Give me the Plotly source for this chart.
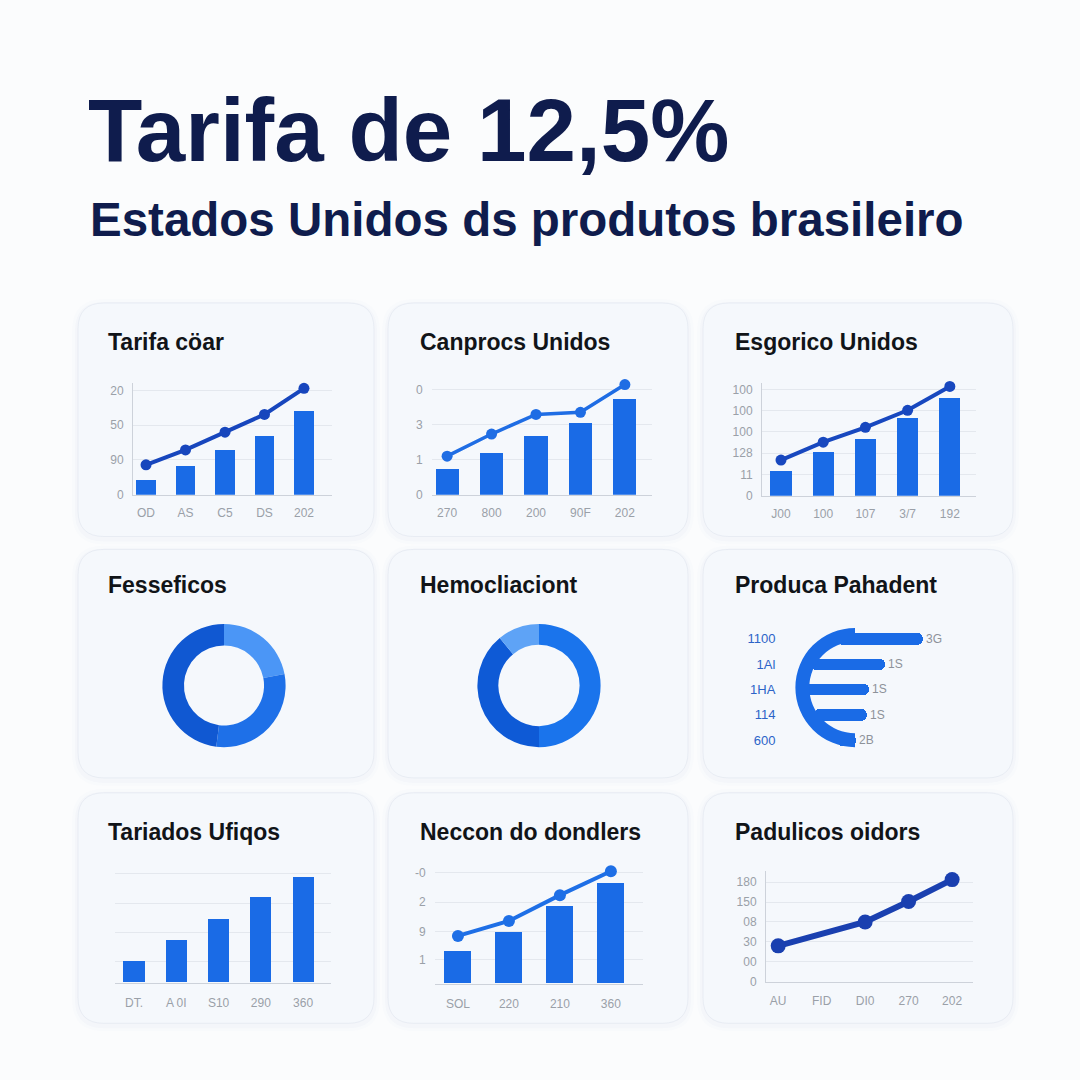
import numpy as np
import plotly.graph_objects as go

W = H = 1080

# ---------------- DATA ----------------
main_title = "Tarifa de 12,5%"
sub_title = "Estados Unidos ds produtos brasileiro"

panel_titles = ["Tarifa cöar", "Canprocs Unidos", "Esgorico Unidos",
                "Fesseficos", "Hemocliaciont", "Produca Pahadent",
                "Tariados Ufiqos", "Neccon do dondlers", "Padulicos oidors"]

# Panel 1
p1_cats = ["OD", "AS", "C5", "DS", "202"]
p1_bars = [4.3, 8.3, 13.1, 17.1, 24.3]
p1_line = [8.6, 12.9, 18.0, 23.1, 30.6]
p1_ytickvals = [0, 10, 20, 30]
p1_yticktext = ["0", "90", "50", "20"]

# Panel 2
p2_cats = ["270", "800", "200", "90F", "202"]
p2_bars = [7.4, 11.9, 17.0, 20.7, 27.5]
p2_line = [11.0, 17.3, 22.9, 23.5, 31.4]
p2_ytickvals = [0, 10, 20, 30]
p2_yticktext = ["0", "1", "3", "0"]

# Panel 3
p3_cats = ["J00", "100", "107", "3/7", "192"]
p3_bars = [1.17, 2.06, 2.71, 3.69, 4.63]
p3_line = [1.68, 2.52, 3.22, 4.02, 5.14]
p3_ytickvals = [0, 1, 2, 3, 4, 5]
p3_yticktext = ["0", "11", "128", "100", "100", "100"]

# Panel 4 (donut)
p4_values = [22, 30, 48]
# Panel 5 (donut)
p5_values = [50, 39, 11]

# Panel 6 (arc + horizontal bars)
p6_labels = ["1100", "1Al", "1HA", "114", "600"]
p6_values = [138, 100, 84, 82, 71]
p6_text = ["3G", "1S", "1S", "1S", "2B"]
p6_arc = [50, 50]

# Panel 7
p7_cats = ["DT.", "A 0I", "S10", "290", "360"]
p7_bars = [21, 43, 64, 86, 106]
p7_ytickvals = [21, 50, 80, 110]

# Panel 8
p8_cats = ["SOL", "220", "210", "360"]
p8_bars = [32, 52, 78, 101]
p8_line = [48, 63, 89, 113]
p8_ytickvals = [24, 52, 82, 112]
p8_yticktext = ["1", "9", "2", "-0"]

# Panel 9
p9_cats = ["AU", "FID", "DI0", "270", "202"]
p9_x = [0, 2, 3, 4]
p9_line = [54, 90, 121, 154]
p9_ytickvals = [0, 30, 60, 90, 120, 150]
p9_yticktext = ["0", "00", "30", "08", "150", "180"]

# ---------------- STYLE ----------------
FONT = "Liberation Sans"
BAR = "#1a6be6"
GRID = "#e4e8ee"
AXL = "#cdd2da"
TICK = "#9aa0a8"
NAVY = "#0f1c4d"


def xd(a, b):
    return [a / W, b / W]


def yd(top, bottom):
    return [1 - bottom / H, 1 - top / H]


fig = go.Figure()
layout = {}


def add_axes(i, xdom, ydom, xrange, yrange, xticks, yticks=None, ytext=None,
             yline=False, show_ylabels=True, ylabcolor=TICK, yfont=12, xticklen=7):
    xa = "xaxis" if i == 1 else f"xaxis{i}"
    ya = "yaxis" if i == 1 else f"yaxis{i}"
    layout[xa] = dict(domain=xd(*xdom), range=xrange, anchor=f"y{i if i>1 else ''}",
                      showgrid=False, zeroline=False, showline=xticks is not None,
                      linecolor=AXL, linewidth=1,
                      tickmode="array",
                      tickvals=list(range(len(xticks))) if xticks else [],
                      ticktext=xticks if xticks else [],
                      ticks="outside", ticklen=xticklen, tickcolor="rgba(0,0,0,0)",
                      tickfont=dict(family=FONT, size=12, color=TICK),
                      fixedrange=True)
    layout[ya] = dict(domain=yd(*ydom), range=yrange, anchor=f"x{i if i>1 else ''}",
                      showgrid=yticks is not None, gridcolor=GRID, gridwidth=1,
                      zeroline=False, showline=yline, linecolor=AXL, linewidth=1,
                      tickmode="array", tickvals=yticks if yticks else [],
                      ticktext=ytext if ytext else [],
                      showticklabels=show_ylabels,
                      ticks="outside", ticklen=6, tickcolor="rgba(0,0,0,0)",
                      tickfont=dict(family=FONT, size=yfont, color=ylabcolor),
                      fixedrange=True)


def ax(i):
    return ("x" if i == 1 else f"x{i}"), ("y" if i == 1 else f"y{i}")


def add_bars(i, vals, width, color=BAR):
    xa, ya = ax(i)
    fig.add_trace(go.Bar(x=list(range(len(vals))), y=vals, width=width,
                         marker=dict(color=color, line=dict(width=0)),
                         xaxis=xa, yaxis=ya, showlegend=False, hoverinfo="skip"))


def add_line(i, xs, vals, color, lw, ms):
    xa, ya = ax(i)
    fig.add_trace(go.Scatter(x=xs, y=vals, mode="lines+markers",
                             line=dict(color=color, width=lw),
                             marker=dict(color=color, size=ms),
                             xaxis=xa, yaxis=ya, showlegend=False,
                             hoverinfo="skip", cliponaxis=False))


# Panel 1
add_axes(1, (133, 332), (385, 498), [-0.33, 4.71], [0, 113 / 3.5], p1_cats,
         p1_ytickvals, p1_yticktext, yline=True)
add_bars(1, p1_bars, 0.5)
add_line(1, list(range(5)), p1_line, "#1746bd", 4, 11)

# Panel 2
add_axes(2, (432, 652), (383, 498), [-0.34, 4.61], [0, 115 / 3.533], p2_cats,
         p2_ytickvals, p2_yticktext, yline=False)
add_bars(2, p2_bars, 0.52)
add_line(2, list(range(5)), p2_line, "#1f6de4", 3.5, 11)

# Panel 3
add_axes(3, (762, 976), (385, 499), [-0.45, 4.62], [0, 114 / 21.4], p3_cats,
         p3_ytickvals, p3_yticktext, yline=True)
add_bars(3, p3_bars, 0.5)
add_line(3, list(range(5)), p3_line, "#1848bf", 4, 11)

# Panel 7
add_axes(4, (115, 331), (870, 989), [-0.45, 4.66], [0, 119], p7_cats,
         p7_ytickvals, None, yline=False, show_ylabels=False, xticklen=9)
add_bars(4, p7_bars, 0.5)

# Panel 8
add_axes(5, (435, 643), (870, 990), [-0.45, 3.63], [0, 120], p8_cats,
         p8_ytickvals, p8_yticktext, yline=False, xticklen=9)
add_bars(5, p8_bars, 0.53)
add_line(5, list(range(4)), p8_line, "#1e6fe6", 4, 12)

# Panel 9
add_axes(6, (766, 973), (877, 988), [-0.28, 4.48], [0, 166.5], p9_cats,
         p9_ytickvals, p9_yticktext, yline=True, xticklen=8)
add_line(6, p9_x, p9_line, "#1a40b0", 6, 15)

# Panel 6: horizontal bars + arc
p6_x0 = 785
p6_rows_top, p6_rows_bot = 630, 758
add_axes(7, (p6_x0, 960), (p6_rows_top, p6_rows_bot), [0, 175], [4.51, -0.51], None,
         list(range(5)), p6_labels, yline=False, ylabcolor="#2c64c8", yfont=13)
layout["yaxis7"]["showgrid"] = False
layout["xaxis7"]["showline"] = False
arc_cx, arc_cy, r_out, r_in = 855, 692, 60, 46
row_spacing = (p6_rows_bot - p6_rows_top) / 5.02
bases = []
for k in range(5):
    row_px = p6_rows_top + (k + 0.51) * row_spacing
    dy = row_px - arc_cy
    if abs(dy) < r_in - 2:
        bx = arc_cx - np.sqrt(r_in ** 2 - dy ** 2) - 4
    else:
        bx = arc_cx - 18
    bases.append(bx - p6_x0)
fig.add_trace(go.Bar(y=list(range(5)), x=[v - b for v, b in zip(p6_values, bases)],
                     base=bases, orientation="h", width=0.45,
                     marker=dict(color=BAR, line=dict(width=0), cornerradius=6),
                     text=p6_text, textposition="outside", constraintext="none",
                     textfont=dict(family=FONT, size=12, color="#8d929a"),
                     cliponaxis=False, xaxis="x7", yaxis="y7",
                     showlegend=False, hoverinfo="skip"))

fig.add_trace(go.Pie(values=p6_arc, hole=r_in / r_out, sort=False, direction="clockwise",
                     rotation=180, marker=dict(colors=[BAR, "rgba(0,0,0,0)"], line=dict(width=0)),
                     textinfo="none", hoverinfo="skip", showlegend=False,
                     domain=dict(x=xd(arc_cx - r_out, arc_cx + r_out),
                                 y=yd(arc_cy - r_out, arc_cy + r_out))))

# Donuts
fig.add_trace(go.Pie(values=p4_values, hole=0.65, sort=False, direction="clockwise",
                     rotation=0, marker=dict(colors=["#4b96f6", "#1e70e8", "#1058d2"],
                                             line=dict(width=0)),
                     textinfo="none", hoverinfo="skip", showlegend=False,
                     domain=dict(x=xd(162, 286), y=yd(628, 752))))
fig.add_trace(go.Pie(values=p5_values, hole=0.66, sort=False, direction="clockwise",
                     rotation=0, marker=dict(colors=["#1a74ec", "#0e5ad6", "#5ea3f6"],
                                             line=dict(width=0)),
                     textinfo="none", hoverinfo="skip", showlegend=False,
                     domain=dict(x=xd(477, 601), y=yd(628, 752))))


# Cards
def rr(x0, y0, x1, y1, r):
    X = lambda v: v / W
    Y = lambda v: 1 - v / H
    return (f"M {X(x0+r)},{Y(y0)} L {X(x1-r)},{Y(y0)} Q {X(x1)},{Y(y0)} {X(x1)},{Y(y0+r)} "
            f"L {X(x1)},{Y(y1-r)} Q {X(x1)},{Y(y1)} {X(x1-r)},{Y(y1)} "
            f"L {X(x0+r)},{Y(y1)} Q {X(x0)},{Y(y1)} {X(x0)},{Y(y1-r)} "
            f"L {X(x0)},{Y(y0+r)} Q {X(x0)},{Y(y0)} {X(x0+r)},{Y(y0)} Z")


cols = [(78, 374), (388, 688), (703, 1013)]
rows = [(305, 540), (553, 783), (798, 1030)]
shapes = []
for (ry0, ry1) in rows:
    for (cx0, cx1) in cols:
        for g, a in [(6, 0.012), (3, 0.02)]:
            shapes.append(dict(type="path", path=rr(cx0 - g, ry0 - g + 2, cx1 + g, ry1 + g + 2, 26 + g),
                               xref="paper", yref="paper", fillcolor=f"rgba(40,70,130,{a})",
                               line=dict(width=0), layer="below"))
        shapes.append(dict(type="path", path=rr(cx0, ry0, cx1, ry1, 26),
                           xref="paper", yref="paper", fillcolor="#f5f8fc",
                           line=dict(color="rgba(220,226,236,0.5)", width=1), layer="below"))

# Annotations
ann = []
ann.append(dict(text=f"<b>{main_title}</b>", x=86 / W, y=1 - 183 / H, xref="paper", yref="paper",
                xanchor="left", yanchor="bottom", showarrow=False,
                font=dict(family=FONT, size=89, color=NAVY)))
ann.append(dict(text=f"<b>{sub_title}</b>", x=88 / W, y=1 - 250 / H, xref="paper", yref="paper",
                xanchor="left", yanchor="bottom", showarrow=False,
                font=dict(family=FONT, size=47.5, color=NAVY)))
title_pos = [(106, 344), (418, 344), (733, 344),
             (106, 589), (418, 589), (733, 589),
             (106, 837), (418, 837), (733, 837)]
for t, (tx, ty) in zip(panel_titles, title_pos):
    ann.append(dict(text=f"<b>{t}</b>", x=tx / W, y=1 - ty / H, xref="paper", yref="paper",
                    xanchor="left", yanchor="middle", showarrow=False,
                    font=dict(family=FONT, size=23, color="#111418")))

fig.update_layout(width=W, height=H, margin=dict(l=0, r=0, t=0, b=0),
                  paper_bgcolor="#fbfcfd", plot_bgcolor="rgba(0,0,0,0)",
                  shapes=shapes, annotations=ann, bargap=0, **layout)

fig.write_html("out.html", config={"displayModeBar": False})
